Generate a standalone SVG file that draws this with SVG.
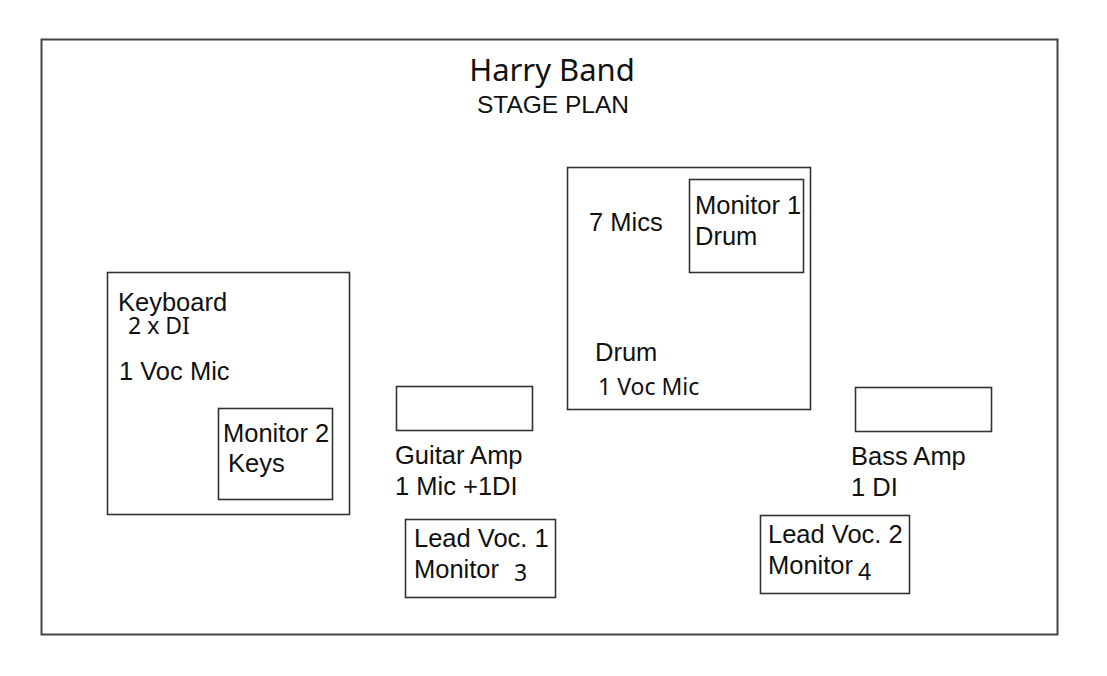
<svg xmlns="http://www.w3.org/2000/svg" width="1107" height="676" viewBox="0 0 1107 676">
<style>
.box{fill:none;stroke:#333;stroke-width:1.6}
.t{font-family:"Liberation Sans",Arial,sans-serif;font-size:25.5px;fill:#111}
.s{font-family:"Noto Sans","Open Sans",sans-serif;font-size:23px;fill:#111}
.title{font-family:"Noto Sans","Open Sans",sans-serif;font-size:31px;fill:#111;text-anchor:middle}
.sub{font-family:"Liberation Sans",Arial,sans-serif;font-size:24.5px;fill:#111;text-anchor:middle}
</style>
<rect width="1107" height="676" fill="#fff"/>
<rect x="41.5" y="39.5" width="1016" height="595" fill="none" stroke="#444" stroke-width="2"/>
<g id="title">
<text class="title" x="552" y="81">Harry Band</text>
<text class="sub" x="553" y="113">STAGE PLAN</text>
</g>
<g id="drum">
<rect class="box" x="567.5" y="167.5" width="243" height="242"/>
<text class="t" x="589" y="231">7 Mics</text>
<text class="t" x="595" y="361">Drum</text>
<text class="s" x="598" y="395">1 Voc Mic</text>
</g>
<g id="monitor1">
<rect class="box" x="689.5" y="179.5" width="114" height="93"/>
<text class="t" x="695" y="214">Monitor 1</text>
<text class="t" x="695" y="245">Drum</text>
</g>
<g id="keyboard">
<rect class="box" x="107.5" y="272.5" width="242" height="242"/>
<text class="t" x="118" y="311">Keyboard</text>
<text class="s" x="128" y="334">2 x DI</text>
<text class="t" x="119" y="380">1 Voc Mic</text>
</g>
<g id="monitor2">
<rect class="box" x="218.5" y="408.5" width="114" height="91"/>
<text class="t" x="223" y="442">Monitor 2</text>
<text class="t" x="228" y="472">Keys</text>
</g>
<g id="guitar">
<rect class="box" x="396.5" y="386.5" width="136" height="44"/>
<text class="t" x="395" y="464">Guitar Amp</text>
<text class="t" x="395" y="495">1 Mic +1DI</text>
</g>
<g id="leadvoc1">
<rect class="box" x="405.5" y="519.5" width="150" height="78"/>
<text class="t" x="414" y="547">Lead Voc. 1</text>
<text class="t" x="414" y="578">Monitor</text>
<text class="s" x="514" y="581">3</text>
</g>
<g id="bass">
<rect class="box" x="855.5" y="387.5" width="136" height="44"/>
<text class="t" x="851" y="465">Bass Amp</text>
<text class="t" x="851" y="496">1 DI</text>
</g>
<g id="leadvoc2">
<rect class="box" x="760.5" y="515.5" width="149" height="78"/>
<text class="t" x="768" y="543">Lead Voc. 2</text>
<text class="t" x="768" y="574">Monitor</text>
<text class="s" x="858" y="580">4</text>
</g>
<g id="connectors"/>
</svg>
